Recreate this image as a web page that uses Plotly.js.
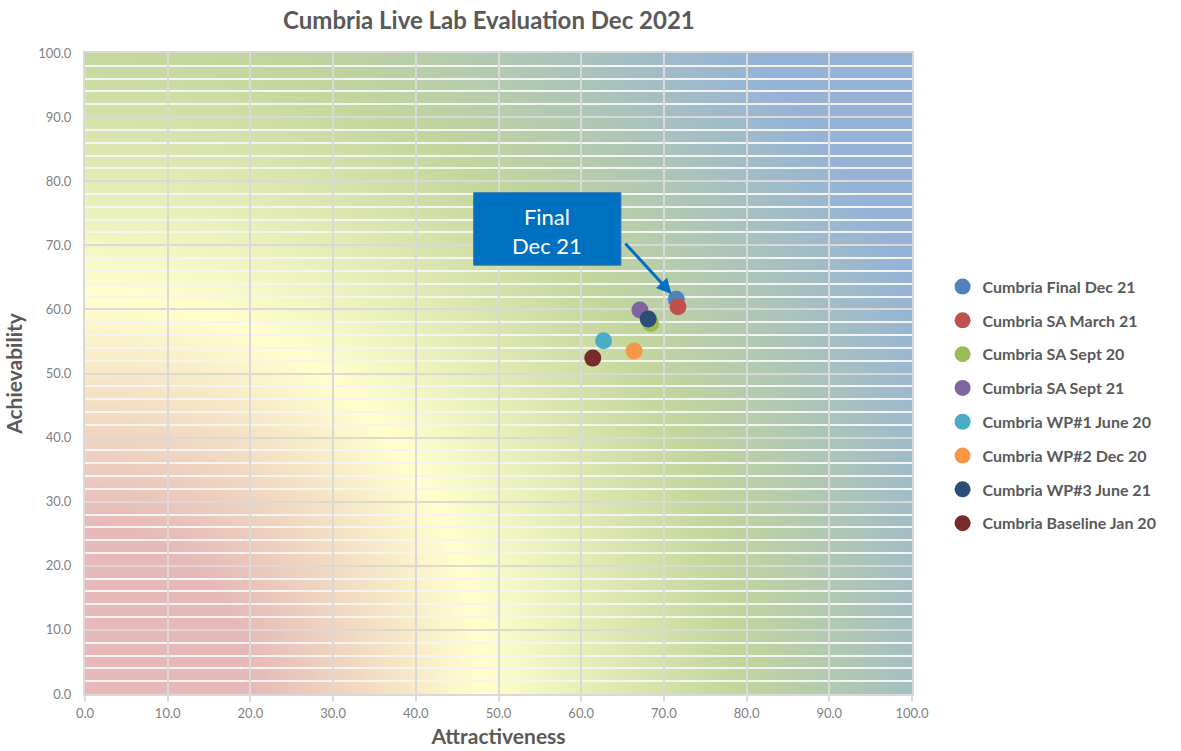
<!DOCTYPE html>
<html>
<head>
<meta charset="utf-8">
<script src="https://cdn.plot.ly/plotly-3.0.1.min.js"></script>
<style>
  html, body { margin: 0; padding: 0; background: #ffffff; }
  #chart { width: 1181px; height: 751px; }
</style>
</head>
<body>
<div id="chart"></div>
<script>
// Evaluation rounds (one trace per round)
const seriesNames = [
  'Cumbria Final Dec 21',
  'Cumbria SA March 21',
  'Cumbria SA Sept 20',
  'Cumbria SA Sept 21',
  'Cumbria WP#1 June 20',
  'Cumbria WP#2 Dec 20',
  'Cumbria WP#3 June 21',
  'Cumbria Baseline Jan 20'
];
const attractiveness = [71.5, 71.7, 68.4, 67.1, 62.7, 66.4, 68.1, 61.4];
const achievability  = [61.6, 60.4, 57.8, 59.9, 55.1, 53.5, 58.5, 52.4];
const seriesColors = ['#4f81bd', '#c0504d', '#9bbb59', '#8064a2', '#4bacc6', '#f79646', '#2c4d75', '#772c2a'];

// Draw order: later traces sit on top of earlier ones
const drawOrder = [2, 0, 1, 3, 4, 5, 6, 7];

const axisTicks = [0, 10, 20, 30, 40, 50, 60, 70, 80, 90, 100];

// Background: radial wash from the lower-left corner (red -> yellow -> green -> blue)
function backgroundImage() {
  const W = 827, H = 641;
  const c = document.createElement('canvas');
  c.width = W; c.height = H;
  const g = c.getContext('2d');
  const R = Math.sqrt(W * W + H * H);
  const grad = g.createRadialGradient(0, H, 0, 0, H, R);
  grad.addColorStop(0.00, '#e6b9b8');
  grad.addColorStop(0.16, '#e6b9b8');
  grad.addColorStop(0.38, '#ffffcc');
  grad.addColorStop(0.62, '#c3d69b');
  grad.addColorStop(0.88, '#95b3d7');
  grad.addColorStop(1.00, '#95b3d7');
  g.fillStyle = grad;
  g.fillRect(0, 0, W, H);
  return c.toDataURL('image/png');
}

const traces = drawOrder.map(i => ({
  type: 'scatter',
  mode: 'markers',
  name: seriesNames[i],
  legendgroup: 'g' + i,
  x: [attractiveness[i]],
  y: [achievability[i]],
  legendrank: i + 1,
  marker: { color: seriesColors[i], size: 17, line: { width: 0 } },
  hovertemplate: '%{x:.1f}, %{y:.1f}<extra>' + seriesNames[i] + '</extra>'
}));

const FONT = 'Lato, "Open Sans", "DejaVu Sans", sans-serif';
const GRID = '#d9d9d9';

const axisCommon = {
  range: [0, 100],
  tickvals: axisTicks,
  tickformat: '.1f',
  showgrid: true,
  gridcolor: GRID,
  gridwidth: 2,
  zeroline: false,
  showline: true,
  linecolor: GRID,
  linewidth: 2,
  mirror: true,
  fixedrange: true,
  tickfont: { family: FONT, size: 13, color: '#7f7f7f' }
};

const layout = {
  width: 1181,
  height: 751,
  margin: { l: 85, r: 269, t: 53, b: 57 },
  paper_bgcolor: '#ffffff',
  plot_bgcolor: 'rgba(0,0,0,0)',
  font: { family: FONT, color: '#595959' },
  title: {
    text: '<b>Cumbria Live Lab Evaluation Dec 2021</b>',
    font: { family: FONT, size: 24, color: '#595959' },
    x: 0.414, xref: 'container', xanchor: 'center',
    y: 0.972, yref: 'container', yanchor: 'middle'
  },
  xaxis: Object.assign({}, axisCommon, {
    ticks: 'outside', ticklen: 6, tickcolor: GRID, tickwidth: 2,
    title: { text: '<b>Attractiveness</b>', font: { family: FONT, size: 21, color: '#595959' }, standoff: 10 }
  }),
  yaxis: Object.assign({}, axisCommon, {
    ticks: '', ticklabelstandoff: 9,
    minor: { dtick: 2, showgrid: true, gridcolor: '#f4f4f4', gridwidth: 2 },
    title: { text: '<b>Achievability</b>', font: { family: FONT, size: 21, color: '#595959' }, standoff: 10 }
  }),
  legend: {
    x: 1.037, xanchor: 'left',
    y: 0.662, yanchor: 'top',
    traceorder: 'grouped',
    font: { family: FONT, size: 16, color: '#595959', weight: 'bold' },
    itemwidth: 30,
    tracegroupgap: 10,
    bgcolor: 'rgba(0,0,0,0)'
  },
  images: [{
    source: backgroundImage(),
    xref: 'x', yref: 'y',
    x: 0, y: 100, sizex: 100, sizey: 100,
    sizing: 'stretch', layer: 'below', xanchor: 'left', yanchor: 'top'
  }],
  shapes: [{
    type: 'rect', xref: 'x', yref: 'y',
    x0: 47.0, x1: 64.8, y0: 66.9, y1: 78.2,
    fillcolor: '#0070c0', line: { width: 1, color: '#2e75b6' }, layer: 'above'
  }],
  annotations: [
    {
      xref: 'x', yref: 'y', x: 55.9, y: 72.3,
      text: 'Final<br>Dec 21', showarrow: false,
      font: { family: FONT, size: 22, color: '#ffffff' },
      align: 'center'
    },
    {
      // callout arrow pointing at the final evaluation
      xref: 'x', yref: 'y', x: attractiveness[0], y: achievability[0],
      text: ' ', showarrow: true,
      ax: -54, ay: -59,
      arrowhead: 2, arrowsize: 1, arrowwidth: 3, arrowcolor: '#0070c0',
      standoff: 7, startstandoff: 0
    }
  ],
  showlegend: true
};

Plotly.newPlot('chart', traces, layout, { displayModeBar: false, staticPlot: false });
</script>
</body>
</html>
